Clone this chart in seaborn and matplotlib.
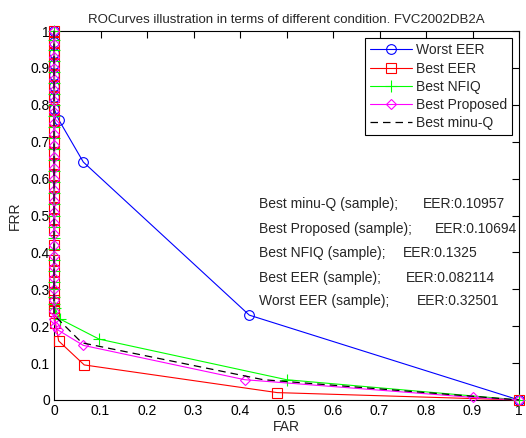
import numpy as np
import pandas as pd
import matplotlib
matplotlib.use("Agg")
import matplotlib.pyplot as plt
import seaborn as sns

# ---------------- data ----------------
worst_far = [0, 0, 0, 0, 0, 0, 0, 0, 0.01, 0.063, 0.42, 1.0]
worst_frr = [1.0, 0.97, 0.94, 0.91, 0.88, 0.85, 0.82, 0.79, 0.76, 0.645, 0.23, 0.0]

best_eer_far = [0] * 27 + [0.003, 0.01, 0.065, 0.48, 1.0]
best_eer_frr = [1.0, 0.97, 0.94, 0.91, 0.88, 0.85, 0.82, 0.79, 0.76, 0.73, 0.70,
                0.67, 0.64, 0.61, 0.58, 0.55, 0.52, 0.49, 0.46, 0.42, 0.38, 0.35,
                0.32, 0.29, 0.27, 0.25, 0.24, 0.21, 0.16, 0.095, 0.02, 0.0]

nfiq_far = [0] * 27 + [0.002, 0.012, 0.097, 0.5, 1.0]
nfiq_frr = [1.0, 0.975, 0.95, 0.92, 0.89, 0.86, 0.83, 0.80, 0.77, 0.74, 0.71,
            0.68, 0.65, 0.62, 0.59, 0.56, 0.53, 0.50, 0.47, 0.44, 0.41, 0.38,
            0.35, 0.32, 0.30, 0.28, 0.26, 0.25, 0.22, 0.165, 0.055, 0.0]

prop_far = [0] * 27 + [0.003, 0.008, 0.063, 0.41, 0.9, 1.0]
prop_frr = [1.0, 0.965, 0.93, 0.90, 0.87, 0.84, 0.81, 0.78, 0.75, 0.72, 0.69,
            0.66, 0.63, 0.60, 0.57, 0.54, 0.51, 0.48, 0.45, 0.42, 0.39, 0.36,
            0.33, 0.30, 0.27, 0.24, 0.22, 0.20, 0.19, 0.148, 0.055, 0.007, 0.0]

minuq_far = [0, 0, 0.06, 0.45, 1.0]
minuq_frr = [1.0, 0.23, 0.155, 0.055, 0.0]

series_names = ["Worst EER", "Best EER", "Best NFIQ", "Best Proposed", "Best minu-Q"]

note_labels = ["Best minu-Q (sample);", "Best Proposed (sample);", "Best NFIQ (sample);",
               "Best EER (sample);", "Worst EER (sample);"]
note_eer = ["EER:0.10957", "EER:0.10694", "EER:0.1325", "EER:0.082114", "EER:0.32501"]

ticks = [0, 0.1, 0.2, 0.3, 0.4, 0.5, 0.6, 0.7, 0.8, 0.9, 1.0]
tick_labels = ["0", "0.1", "0.2", "0.3", "0.4", "0.5", "0.6", "0.7", "0.8", "0.9", "1"]

# ---------------- styling ----------------
sns.set_theme(style="white")
plt.rcParams["font.family"] = ["Liberation Sans", "DejaVu Sans"]

fig = plt.figure(figsize=(5.26, 4.38), dpi=100)
ax = fig.add_axes([0.1027, 0.0868, 0.8840, 0.8422])

styles = [
    dict(color=(0, 0, 1), marker="o", ms=7),
    dict(color=(1, 0, 0), marker="s", ms=7),
    dict(color=(0, 1, 0), marker="+", ms=8),
    dict(color=(1, 0, 1), marker="D", ms=5.5),
    dict(color=(0, 0, 0), marker=None, ms=0),
]
datas = [(worst_far, worst_frr), (best_eer_far, best_eer_frr), (nfiq_far, nfiq_frr),
         (prop_far, prop_frr), (minuq_far, minuq_frr)]

for name, (xs, ys), st in zip(series_names, datas, styles):
    df = pd.DataFrame({"FAR": xs, "FRR": ys})
    kw = dict(linewidth=0.8, clip_on=False)
    if st["marker"] is not None:
        kw.update(marker=st["marker"], markersize=st["ms"], markerfacecolor="none",
                  markeredgecolor=st["color"], markeredgewidth=0.8, linestyle="-")
    else:
        kw.update(linestyle=(0, (6, 4)), linewidth=0.9)
    sns.lineplot(data=df, x="FAR", y="FRR", sort=False, estimator=None,
                 color=st["color"], label=name, ax=ax, **kw)

ax.set_xlim(0, 1)
ax.set_ylim(0, 1)
ax.set_xticks(ticks)
ax.set_xticklabels(tick_labels)
ax.set_yticks(ticks)
ax.set_yticklabels(tick_labels)
ax.tick_params(direction="in", top=True, right=True, length=5, width=0.8,
               labelsize=10, colors="black", pad=3)
for sp in ax.spines.values():
    sp.set_color("black")
    sp.set_linewidth(0.8)
    sp.set_zorder(0.5)

ax.set_xlabel("FAR", fontsize=10, labelpad=1)
ax.set_ylabel("FRR", fontsize=10, labelpad=6)
ax.set_title("ROCurves illustration in terms of different condition. FVC2002DB2A",
             fontsize=9.5, pad=6)

note_y = [0.531, 0.463, 0.398, 0.331, 0.268]
eer_x = [0.794, 0.819, 0.751, 0.757, 0.781]
for lab, eer, yy, ex in zip(note_labels, note_eer, note_y, eer_x):
    ax.text(0.44, yy, lab, fontsize=10, va="center", ha="left")
    ax.text(ex, yy, eer, fontsize=10, va="center", ha="left")

leg = ax.legend(loc="upper right", bbox_to_anchor=(0.985, 0.98), fontsize=10,
                frameon=True, fancybox=False, edgecolor="black", framealpha=1,
                handlelength=3.0, borderpad=0.35, labelspacing=0.3,
                handletextpad=0.3, borderaxespad=0.0)
leg.get_frame().set_linewidth(0.8)
leg.set_zorder(10)

fig.savefig("out.png", dpi=100, facecolor="white")
